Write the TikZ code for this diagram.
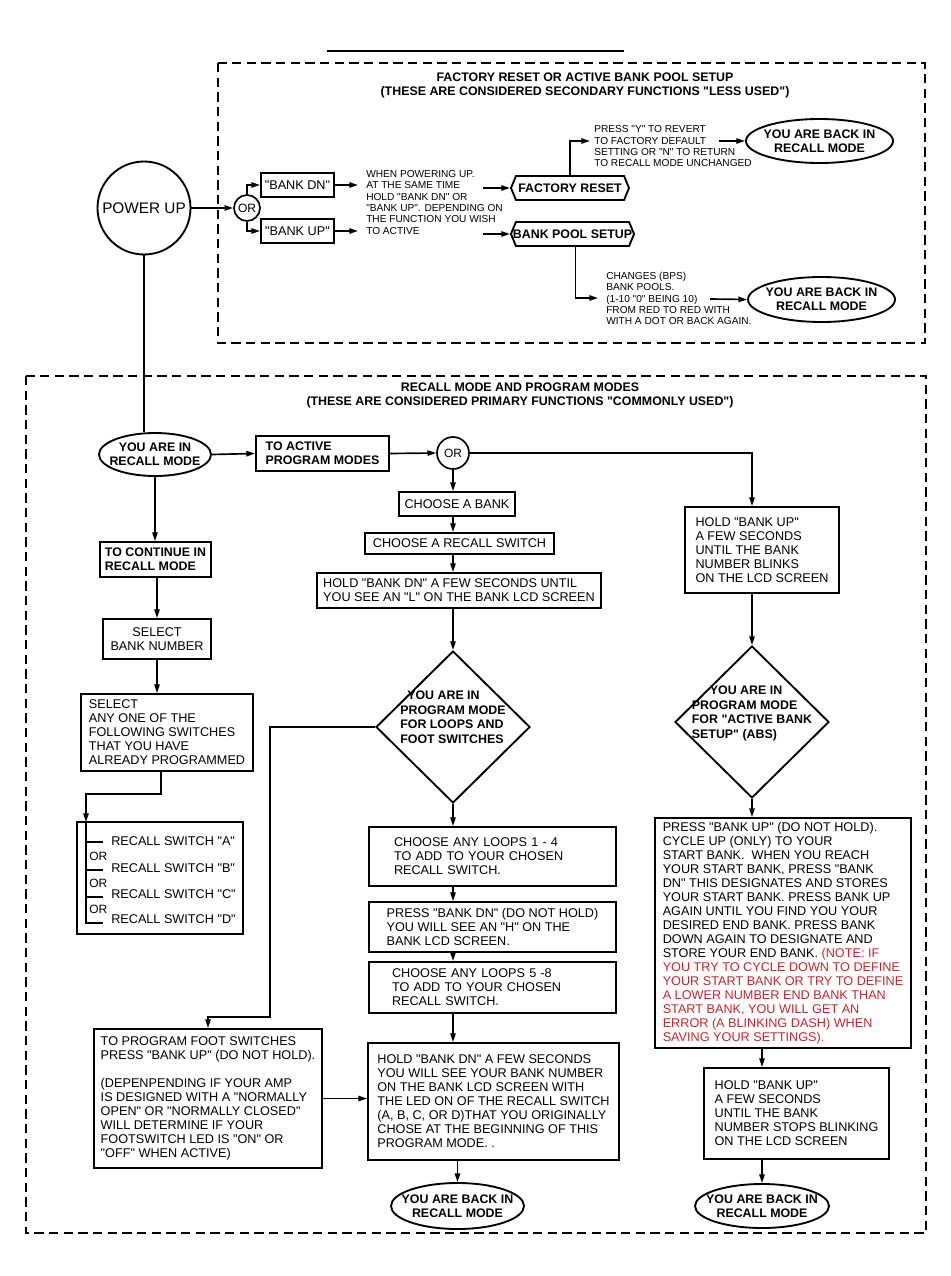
\documentclass[tikz,border=0pt]{standalone}
\usepackage{fontspec}
\setmainfont{Liberation Sans}[Ligatures=TeXOff]
\usetikzlibrary{shapes.geometric,shapes.symbols,arrows.meta}
\newlength{\pxu}
\setlength{\pxu}{0.75pt}
\definecolor{notered}{RGB}{196,38,44}
\newcommand{\smallfont}{\fontsize{7.6}{8.5}\selectfont}
\newcommand{\boxfont}{\fontsize{9.5}{10.5}\selectfont}
\newcommand{\boldfont}{\fontsize{9.3}{10.8}\selectfont\bfseries}
\newcommand{\hdfont}{\fontsize{9.3}{10.5}\selectfont\bfseries}
\newcommand{\bigfont}{\fontsize{11.5}{13}\selectfont}
\newcommand{\orfont}{\fontsize{9}{10}\selectfont}
\tikzset{
	conn/.style={line width=1.25pt,-{Triangle[length=6.5pt,width=4pt]}},
	wire/.style={line width=1.25pt},
	region/.style={line width=1.4pt,dash pattern=on 7pt off 4pt},
	box/.style={draw,line width=1.4pt,align=left,inner sep=0pt,font=\boxfont},
	boldbox/.style={box,font=\boldfont},
	oval/.style={ellipse,draw,line width=1.4pt,inner sep=-10\pxu,align=center,font=\boldfont},
	gate/.style={circle,draw,line width=1.25pt,inner sep=0pt,font=\orfont},
	decision/.style={diamond,draw,line width=1.4pt,inner sep=-20\pxu,align=left,font=\boldfont,minimum width=154\pxu,minimum height=152\pxu},
	arrowbox/.style={signal,signal to=west and east,signal pointer angle=135,draw,line width=1.4pt,inner xsep=-3\pxu,inner ysep=0pt,minimum height=24\pxu,font=\boldfont},
	note/.style={align=left,inner sep=0pt,font=\smallfont},
	heading/.style={align=center,inner sep=0pt,font=\hdfont}
}
\begin{document}
\begin{tikzpicture}[x=0.75pt,y=-0.75pt]
	\useasboundingbox (0,0) rectangle (950,1276);
	% secondary functions
	\draw[line width=1.6pt] (327,51) -- (624,51);
	\draw[region] (218,63) rectangle (925,343);
	\node[heading] (title1) at (585,85) {FACTORY RESET OR ACTIVE BANK POOL SETUP\\(THESE ARE CONSIDERED SECONDARY FUNCTIONS "LESS USED")};
	\node[circle,draw,line width=1.4pt,minimum size=93\pxu,inner sep=0pt,font=\bigfont] (pwr) at (144,208) {POWER UP};
	\node[gate,minimum size=26\pxu] (or1) at (247,208) {OR};
	\node[box,minimum width=73\pxu,minimum height=24\pxu] (bdn) at (297.5,185) {"BANK DN"};
	\node[box,minimum width=73\pxu,minimum height=24\pxu] (bup) at (297.5,231) {"BANK UP"};
	\node[note,anchor=west] (pwrtxt) at (366,202.5) {WHEN POWERING UP.\\AT THE SAME TIME\\HOLD "BANK DN" OR\\"BANK UP". DEPENDING ON\\THE FUNCTION YOU WISH\\TO ACTIVE};
	\node[arrowbox,minimum width=118\pxu] (fr) at (570,188) {FACTORY RESET};
	\node[arrowbox] (bps) at (572.5,234) {BANK POOL SETUP};
	\node[note,anchor=west] (frtxt) at (594,146.5) {PRESS "Y" TO REVERT\\TO FACTORY DEFAULT\\SETTING OR "N" TO RETURN\\TO RECALL MODE UNCHANGED};
	\node[note,anchor=west] (bpstxt) at (606,298.5) {CHANGES (BPS)\\BANK POOLS.\\(1-10 "0" BEING 10)\\FROM RED TO RED WITH\\WITH A DOT OR BACK AGAIN.};
	\node[oval,minimum width=147\pxu,minimum height=44\pxu] (back1) at (819.5,141) {YOU ARE BACK IN\\RECALL MODE};
	\node[oval,minimum width=147\pxu,minimum height=45\pxu] (back2) at (821.5,299.5) {YOU ARE BACK IN\\RECALL MODE};
	\coordinate (split) at (483,0);
	\coordinate (frin) at (590,141);
	\coordinate (frout) at (719,141);
	\coordinate (bpsin) at (598,298);
	\coordinate (bpsout) at (710,299);
	\draw[conn] (pwr.east) -- (or1.west);
	\draw[conn] (or1.north) |- (bdn.west);
	\draw[conn] (or1.south) |- (bup.west);
	\draw[conn,shorten >=8\pxu] (bdn.east) -- (bdn.east -| pwrtxt.west);
	\draw[conn,shorten >=8\pxu] (bup.east) -- (bup.east -| pwrtxt.west);
	\draw[conn] (fr.west -| split) -- (fr.west);
	\draw[conn] (bps.west -| split) -- (bps.west);
	\draw[conn] (fr.north) |- (frin);
	\draw[conn] (frout) -- (back1.west);
	\draw[conn] ([xshift=3\pxu]bps.south) |- (bpsin);
	\draw[conn] (bpsout) -- (back2.west);
	% primary functions
	\draw[region] (26,376) rectangle (926,1233);
	\node[heading] (title2) at (520,395) {RECALL MODE AND PROGRAM MODES\\(THESE ARE CONSIDERED PRIMARY FUNCTIONS "COMMONLY USED")};
	\node[oval,minimum width=112\pxu,minimum height=43\pxu] (rim) at (155,454.5) {YOU ARE IN\\RECALL MODE};
	\node[boldbox,minimum width=133\pxu,minimum height=35\pxu] (act) at (322.5,453.5) {TO ACTIVE\\PROGRAM MODES};
	\node[gate,minimum size=32\pxu] (or2) at (453,453) {OR};
	% left column
	\node[boldbox,minimum width=111\pxu,minimum height=35\pxu] (cont) at (155.5,559.5) {TO CONTINUE IN\\RECALL MODE};
	\node[box,align=center,minimum width=108\pxu,minimum height=40\pxu] (sbn) at (157,639) {SELECT\\BANK NUMBER};
	\node[box,minimum width=172\pxu,minimum height=77\pxu] (sel) at (167,732.5) {SELECT\\ANY ONE OF THE\\FOLLOWING SWITCHES\\THAT YOU HAVE\\ALREADY PROGRAMMED};
	\node[box,minimum width=166\pxu,minimum height=112\pxu] (rsw) at (160,878) {};
	\coordinate (rail) at (86,822);
	\foreach \y/\l in {841/A,868/B,894/C,919/D}
	\node[anchor=west,inner sep=0pt,font=\boxfont] (sw\l) at (111,\y) {RECALL SWITCH "\l"};
	\foreach \y in {856,883,909}
	\node[anchor=west,inner sep=0pt,font=\orfont] (alt\y) at (89,\y) {OR};
	\foreach \y in {842,870,897}
	\draw[wire] (86,\y) -- (103,\y);
	\draw[wire] (rail) -- (86,923) -- (103,923);
	\node[box,minimum width=228\pxu,minimum height=139\pxu] (foot) at (208,1098.5) {TO PROGRAM FOOT SWITCHES\\PRESS "BANK UP" (DO NOT HOLD).\\[10.5pt](DEPENPENDING IF YOUR AMP\\IS DESIGNED WITH A "NORMALLY\\OPEN" OR "NORMALLY CLOSED"\\WILL DETERMINE IF YOUR\\FOOTSWITCH LED IS "ON" OR\\"OFF" WHEN ACTIVE)};
	% middle column
	\node[box,minimum width=116\pxu,minimum height=24\pxu] (cab) at (457,504) {CHOOSE A BANK};
	\node[box,minimum width=189\pxu,minimum height=21\pxu] (crs) at (459.5,543.5) {CHOOSE A RECALL SWITCH};
	\node[box,minimum width=284\pxu,minimum height=35\pxu] (hbl) at (459,590.5) {HOLD "BANK DN" A FEW SECONDS UNTIL\\YOU SEE AN "L" ON THE BANK LCD SCREEN};
	\node[decision] (prg) at (453,727) {\hspace*{7\pxu}YOU ARE IN\\PROGRAM MODE\\FOR LOOPS AND\\FOOT SWITCHES\\[4pt]\mbox{}};
	\node[box,text width=197\pxu,inner xsep=25\pxu,minimum height=59\pxu] (lp1) at (492.5,856.5) {CHOOSE ANY LOOPS 1 - 4\\TO ADD TO YOUR CHOSEN\\RECALL SWITCH.};
	\node[box,minimum width=247\pxu,minimum height=50\pxu] (pbd) at (492.5,927) {PRESS "BANK DN" (DO NOT HOLD)\\YOU WILL SEE AN "H" ON THE\\BANK LCD SCREEN.};
	\node[box,text width=201\pxu,inner xsep=23\pxu,minimum height=51\pxu] (lp2) at (492.5,987.5) {CHOOSE ANY LOOPS 5 -8\\TO ADD TO YOUR CHOSEN\\RECALL SWITCH.};
	\node[box,minimum width=251\pxu,minimum height=117\pxu] (hbd) at (493.5,1101.5) {HOLD "BANK DN" A FEW SECONDS\\YOU WILL SEE YOUR BANK NUMBER\\ON THE BANK LCD SCREEN WITH\\THE LED ON OF THE RECALL SWITCH\\(A, B, C, OR D)THAT YOU ORIGINALLY\\CHOSE AT THE BEGINNING OF THIS\\PROGRAM MODE. .};
	\node[oval,minimum width=133\pxu,minimum height=46\pxu] (back3) at (457.5,1206) {YOU ARE BACK IN\\RECALL MODE};
	\coordinate (bend) at (270,1017);
	% right column
	\node[box,minimum width=154\pxu,minimum height=86\pxu] (hbu) at (762,550) {HOLD "BANK UP"\\A FEW SECONDS\\UNTIL THE BANK\\NUMBER BLINKS\\ON THE LCD SCREEN};
	\node[decision] (abs) at (752,722) {\hspace*{18\pxu}YOU ARE IN\\PROGRAM MODE\\FOR "ACTIVE BANK\\SETUP" (ABS)\\[4pt]\mbox{}};
	\node[box,minimum width=256\pxu,minimum height=230\pxu] (pbu) at (783,933) {PRESS "BANK UP" (DO NOT HOLD).\\CYCLE UP (ONLY) TO YOUR\\START BANK.\ \ WHEN YOU REACH\\YOUR START BANK, PRESS "BANK\\DN" THIS DESIGNATES AND STORES\\YOUR START BANK. PRESS BANK UP\\AGAIN UNTIL YOU FIND YOU YOUR\\DESIRED END BANK. PRESS BANK\\DOWN AGAIN TO DESIGNATE AND\\STORE YOUR END BANK. \textcolor{notered}{(NOTE: IF}\\\textcolor{notered}{YOU TRY TO CYCLE DOWN TO DEFINE}\\\textcolor{notered}{YOUR START BANK OR TRY TO DEFINE}\\\textcolor{notered}{A LOWER NUMBER END BANK THAN}\\\textcolor{notered}{START BANK, YOU WILL GET AN}\\\textcolor{notered}{ERROR (A BLINKING DASH) WHEN}\\\textcolor{notered}{SAVING YOUR SETTINGS).}};
	\node[box,minimum width=185\pxu,minimum height=91\pxu] (stp) at (796.5,1113.5) {HOLD "BANK UP"\\A FEW SECONDS\\UNTIL THE BANK\\NUMBER STOPS BLINKING\\ON THE LCD SCREEN};
	\node[oval,minimum width=134\pxu,minimum height=44\pxu] (back4) at (762,1206) {YOU ARE BACK IN\\RECALL MODE};
	% connectors
	\draw[wire] (pwr.south) -- (pwr.south |- rim.north);
	\draw[conn] (rim.east) -- (act.west);
	\draw[conn] (act.east) -- (or2.west);
	\draw[conn] (rim.south) -- (rim.south |- cont.north);
	\draw[conn] (sbn |- cont.south) -- (sbn.north);
	\draw[conn] (sbn.south) -- (sbn.south |- sel.north);
	\draw[conn] ([xshift=-6\pxu]sel.south) -- ++(0,22) -| (rail);
	\draw[conn] (or2.south) -- (or2 |- cab.north);
	\draw[conn] (or2 |- cab.south) -- (or2 |- crs.north);
	\draw[conn] (or2 |- crs.south) -- (or2 |- hbl.north);
	\draw[conn] (or2 |- hbl.south) -- (prg.north);
	\draw[conn] (prg.south) -- (prg |- lp1.north);
	\draw[conn] (prg |- lp1.south) -- (prg |- pbd.north);
	\draw[conn] (prg |- pbd.south) -- (prg |- lp2.north);
	\draw[conn] (prg |- lp2.south) -- (prg |- hbd.north);
	\draw[conn] (back3 |- hbd.south) -- (back3.north);
	\draw[conn] (prg.west) -| (bend) -| (foot.north);
	\draw[conn] (foot.east) -- (foot.east -| hbd.west);
	\draw[conn] (or2.east) -| (abs |- hbu.north);
	\draw[conn] (abs |- hbu.south) -- (abs.north);
	\draw[conn] (abs.south) -- (abs |- pbu.north);
	\draw[conn] (back4 |- pbu.south) -- (back4 |- stp.north);
	\draw[conn] (back4 |- stp.south) -- (back4.north);
\end{tikzpicture}
\end{document}
